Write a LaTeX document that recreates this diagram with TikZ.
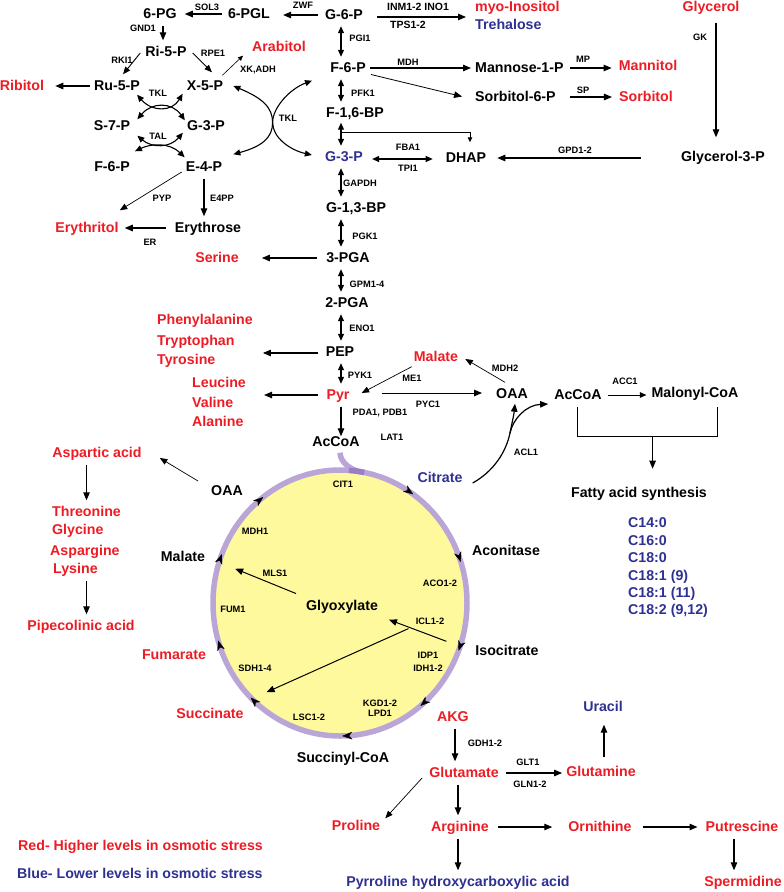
\documentclass[tikz,border=0pt]{standalone}
\usepackage{fontspec}
\setmainfont{Liberation Sans}
\usetikzlibrary{arrows.meta,calc}
\definecolor{myred}{HTML}{ED1C24}
\definecolor{myblue}{HTML}{2E3192}
\definecolor{ringpurple}{HTML}{B9A6D6}
\definecolor{ringyellow}{HTML}{FFF99E}
\definecolor{junction}{HTML}{9B7DC6}
\begin{document}
\begin{tikzpicture}[x=1pt,y=-1pt,
 lab/.style={font=\fontsize{14.2}{16}\selectfont\bfseries, text height=10.5pt, text depth=2.5pt, inner xsep=2pt, inner ysep=3pt},
 redl/.style={lab, text=myred},
 bluel/.style={lab, text=myblue},
 enz/.style={font=\fontsize{9.3}{11}\selectfont\bfseries, inner sep=1pt},
 enzL/.style={font=\fontsize{10.5}{12}\selectfont\bfseries, inner sep=1pt},
 ar/.style={line width=1.1pt, -{Triangle[length=8pt,width=6.5pt]}, shorten >=2pt, shorten <=2pt},
 tar/.style={line width=0.7pt, -{Triangle[length=7.5pt,width=6pt]}},
 dar/.style={line width=1.1pt, {Triangle[length=7pt,width=6pt]}-{Triangle[length=7pt,width=6pt]}, shorten >=1.5pt, shorten <=1.5pt},
 dcurve/.style={line width=1.1pt, {Triangle[length=7pt,width=6pt]}-{Triangle[length=7pt,width=6pt]}},
 ringtip/.style={line width=0.3pt, -{Stealth[length=10pt,width=7.5pt,inset=3pt]}},
]
\useasboundingbox (0,0) rectangle (784,892);

% ---------- TCA ring ----------
\draw[ringpurple, line width=5.5pt, fill=ringyellow] (340,603) ellipse [x radius=127pt, y radius=133pt];

% ---------- main metabolite nodes ----------
\coordinate (cx) at (341,0);
\node[lab] (pg6) at (160,14) {6-PG};
\node[lab] (pgl) at (249,14) {6-PGL};
\node[lab] (g6p) at (344,15) {G-6-P};
\node[redl,anchor=west] (myo) at (473,7) {myo-Inositol};
\node[bluel,anchor=west] (tre) at (473,25) {Trehalose};
\node[redl] (glyc) at (711,7) {Glycerol};
\node[lab] (glyc3p) at (723,157) {Glycerol-3-P};
\node[lab] (f6p) at (348,68) {F-6-P};
\node[lab,anchor=west] (man1p) at (473,68) {Mannose-1-P};
\node[lab,anchor=west] (sor6p) at (473,97) {Sorbitol-6-P};
\node[redl] (mannitol) at (648,66) {Mannitol};
\node[redl] (sorbitol) at (646,97) {Sorbitol};
\node[lab] (f16bp) at (355,113) {F-1,6-BP};
\node[bluel] (g3p) at (344,157) {G-3-P};
\node[lab] (dhap) at (466,158) {DHAP};
\node[lab] (g13bp) at (356,208) {G-1,3-BP};
\node[lab] (pga3) at (348,258) {3-PGA};
\node[redl] (serine) at (217,258) {Serine};
\node[lab] (pga2) at (347,303) {2-PGA};
\node[lab] (pep) at (340,352) {PEP};
\node[redl,anchor=west] (phe) at (155,320) {Phenylalanine};
\node[redl,anchor=west] (trp) at (155,341) {Tryptophan};
\node[redl,anchor=west] (tyr) at (155,360) {Tyrosine};
\node[redl] (pyr) at (338,395) {Pyr};
\node[redl,anchor=west] (leu) at (190,383) {Leucine};
\node[redl,anchor=west] (val) at (190,403) {Valine};
\node[redl,anchor=west] (ala) at (190,422) {Alanine};
\node[lab] (accoa) at (336,442) {AcCoA};
\node[redl] (malr) at (436,357) {Malate};
\node[lab] (oaar) at (512,394) {OAA};
\node[lab] (accoa2) at (578,395) {AcCoA};
\node[lab] (malcoa) at (695,393) {Malonyl-CoA};
\node[lab] (fas) at (639,493) {Fatty acid synthesis};
\node[bluel,anchor=west] (c140) at (626,523) {C14:0};
\node[bluel,anchor=west] (c160) at (626,541) {C16:0};
\node[bluel,anchor=west] (c180) at (626,558) {C18:0};
\node[bluel,anchor=west] (c181a) at (626,576) {C18:1 (9)};
\node[bluel,anchor=west] (c181b) at (626,593) {C18:1 (11)};
\node[bluel,anchor=west] (c182) at (626,610) {C18:2 (9,12)};
\node[bluel] (cit) at (440,478) {Citrate};

% pentose phosphate
\node[lab] (ri5p) at (166,52) {Ri-5-P};
\node[lab] (ru5p) at (117,86) {Ru-5-P};
\node[redl] (ribitol) at (22,86) {Ribitol};
\node[lab] (x5p) at (205,86) {X-5-P};
\node[redl] (arabitol) at (279,47) {Arabitol};
\node[lab] (s7p) at (112,126) {S-7-P};
\node[lab] (g3pl) at (206,126) {G-3-P};
\node[lab] (f6pl) at (112,167) {F-6-P};
\node[lab] (e4p) at (204,167) {E-4-P};
\node[lab] (erythrose) at (208,228) {Erythrose};
\node[redl] (erythritol) at (87,228) {Erythritol};

% cycle
\node[lab] (oaal) at (227,491) {OAA};
\node[lab] (mall) at (183,557) {Malate};
\node[redl] (fum) at (174,655) {Fumarate};
\node[redl] (suc) at (210,714) {Succinate};
\node[lab] (succoa) at (343,758) {Succinyl-CoA};
\node[redl] (akg) at (453,717) {AKG};
\node[lab] (iso) at (507,651) {Isocitrate};
\node[lab] (aco) at (506,551) {Aconitase};
\node[lab] (glyox) at (342,606) {Glyoxylate};

% left amino acids
\node[redl] (asp) at (97,453) {Aspartic acid};
\node[redl,anchor=west] (thr) at (50,512) {Threonine};
\node[redl,anchor=west] (gly) at (50,530) {Glycine};
\node[redl,anchor=west] (asn) at (48,551) {Aspargine};
\node[redl,anchor=west] (lys) at (51,569) {Lysine};
\node[redl] (pip) at (81,626) {Pipecolinic acid};

% bottom
\node[redl] (glu) at (464,773) {Glutamate};
\node[redl] (gln) at (601,772) {Glutamine};
\node[bluel] (ura) at (603,707) {Uracil};
\node[redl] (pro) at (356,826) {Proline};
\node[redl] (arg) at (460,827) {Arginine};
\node[redl] (orn) at (600,827) {Ornithine};
\node[redl] (put) at (742,827) {Putrescine};
\node[redl] (spd) at (743,882) {Spermidine};
\node[bluel] (pyrro) at (458,882) {Pyrroline hydroxycarboxylic acid};
\node[redl,anchor=west] (leg1) at (16,846) {Red- Higher levels in osmotic stress};
\node[bluel,anchor=west] (leg2) at (15,874) {Blue- Lower levels in osmotic stress};

% ---------- enzyme labels ----------
\node[enz] (eSOL) at (207,7) {SOL3};
\node[enz] (eZWF) at (303,5) {ZWF};
\node[enz] (eGND) at (143,28) {GND1};
\node[enz] (eRKI) at (122,60) {RKI1};
\node[enz] (eRPE) at (213,53) {RPE1};
\node[enz] (eXK) at (258,70) {XK,ADH};
\node[enz] (eTKL1) at (158,93) {TKL};
\node[enz] (eTAL) at (158,136) {TAL};
\node[enz] (eTKL2) at (288,118) {TKL};
\node[enz] (ePYP) at (162,198) {PYP};
\node[enz] (eE4PP) at (222,198) {E4PP};
\node[enz] (eER) at (150,242) {ER};
\node[enzL] (eINM) at (418,7) {INM1-2 INO1};
\node[enzL] (eTPS) at (408,25) {TPS1-2};
\node[enz] (ePGI) at (360,38) {PGI1};
\node[enz] (eMDH) at (408,62) {MDH};
\node[enz] (eMP) at (583,59) {MP};
\node[enz] (eSP) at (583,90) {SP};
\node[enz] (eGK) at (700,37) {GK};
\node[enz] (ePFK) at (363,93) {PFK1};
\node[enz] (eFBA) at (408,147) {FBA1};
\node[enz] (eTPI) at (408,168) {TPI1};
\node[enz] (eGPD) at (575,150) {GPD1-2};
\node[enz] (eGAPDH) at (360,183) {GAPDH};
\node[enz] (ePGK) at (365,236) {PGK1};
\node[enz] (eGPM) at (367,284) {GPM1-4};
\node[enz] (eENO) at (362,328) {ENO1};
\node[enz] (ePYK) at (360,375) {PYK1};
\node[enz] (ePDA) at (380,413) {PDA1, PDB1};
\node[enz] (eLAT) at (392,437) {LAT1};
\node[enz] (eME) at (412,378) {ME1};
\node[enz] (eMDH2) at (505,368) {MDH2};
\node[enz] (ePYC) at (428,404) {PYC1};
\node[enz] (eACC) at (625,381) {ACC1};
\node[enz] (eACL) at (526,452) {ACL1};
\node[enz] (eCIT) at (343,484) {CIT1};
\node[enz] (eMDH1) at (255,531) {MDH1};
\node[enz] (eACO) at (440,583) {ACO1-2};
\node[enz] (eMLS) at (275,573) {MLS1};
\node[enz] (eFUM) at (233,609) {FUM1};
\node[enz] (eICL) at (430,621) {ICL1-2};
\node[enz] (eIDP) at (428,655) {IDP1};
\node[enz] (eIDH) at (428,668) {IDH1-2};
\node[enz] (eSDH) at (255,668) {SDH1-4};
\node[enz] (eKGD) at (380,703) {KGD1-2};
\node[enz] (eLPD) at (380,713) {LPD1};
\node[enz] (eLSC) at (309,717) {LSC1-2};
\node[enz] (eGDH) at (485,743) {GDH1-2};
\node[enz] (eGLT) at (528,762) {GLT1};
\node[enz] (eGLN) at (530,784) {GLN1-2};

% ---------- ring connector and tips ----------
\draw[ringpurple, line width=5.5pt] ($(accoa.south)+(4,1)$) .. controls +(0,10) and +(-12,-1) .. ({340+127*cos(-79)},{603+133*sin(-79)});
\draw[junction, line width=5.5pt] plot[domain=-86:-79,samples=10] ({340+127*cos(\x)},{603+133*sin(\x)});
\foreach \a in {-57.8,-21,18,47.7,86,131.7,160.6,198.6,229.8} {
  \draw[ringtip] ({340+127*cos(\a+1)},{603+133*sin(\a+1)}) -- ({340+127*cos(\a+3)},{603+133*sin(\a+3)});
}

% ---------- connectors: top ----------
\draw[ar, shorten >=6pt, shorten <=4pt] (pgl.west) -- (pgl.west -| pg6.east);
\draw[ar, shorten >=11pt, shorten <=5pt] (g6p.west) -- (g6p.west -| pgl.east);
\draw[ar] ($(g6p.east)+(10,2)$) -- ($(myo.west |- g6p.east)+(-5,2)$);
\coordinate (gk1) at ($(glyc.south)+(5,4)$);
\draw[ar, shorten >=10pt] (gk1) -- (gk1 |- glyc3p.north);
\draw[ar, shorten <=38pt, shorten >=9pt] (glyc3p.west |- dhap.east) -- (dhap.east);

% glycolysis column
\draw[dar] (g6p.south -| cx) -- (f6p.north -| cx);
\draw[dar] (f6p.south -| cx) -- (f16bp.north -| cx);
\draw[dar, shorten <=0pt] (f16bp.south -| cx) -- (g3p.north -| cx);
\draw[dar] (g3p.south -| cx) -- (g13bp.north -| cx);
\draw[dar] (g13bp.south -| cx) -- (pga3.north -| cx);
\draw[dar] (pga3.south -| cx) -- (pga2.north -| cx);
\draw[dar] (pga2.south -| cx) -- (pep.north -| cx);
\draw[dar] (pep.south -| cx) -- (pyr.north -| cx);
\draw[ar, shorten >=-4pt] (pyr.south -| cx) -- (accoa.north -| cx);
\coordinate (br1) at ($(f16bp.south -| cx)+(0,10)$);
\draw[line width=0.9pt, -{Triangle[length=5pt,width=4.5pt]}, shorten >=6pt] (br1) -| ($(dhap.north)+(4,0)$);

\draw[ar] (f6p.east) -- (f6p.east -| man1p.west);
\draw[ar, line width=0.8pt] ($(f6p.east)+(1,6)$) -- ($(sor6p.west)+(-9,0)$);
\draw[ar, shorten <=4pt, shorten >=5pt] (man1p.east) -- (man1p.east -| mannitol.west);
\draw[ar, shorten <=12pt, shorten >=5pt] (sor6p.east) -- (sor6p.east -| sorbitol.west);
\draw[dar, shorten <=7pt, shorten >=11pt] ($(g3p.east)+(0,2)$) -- ($(g3p.east -| dhap.west)+(0,2)$);
\draw[ar, shorten <=7pt, shorten >=21pt] (pga3.west) -- (pga3.west -| serine.east);
\draw[ar, shorten <=6pt, shorten >=8pt] ($(pep.west)+(0,1)$) -- ($(pep.west -| phe.east)+(0,1)$);
\draw[ar, shorten <=6pt, shorten >=16pt] (pyr.west) -- (pyr.west -| leu.east);

% pyruvate / OAA / fatty acids
\draw[tar] (malr.south west) -- ($(pyr.east)+(10,-2)$);
\draw[ar, line width=0.9pt, shorten >=12pt] ($(pyr.east)+(28,-2)$) -- ($(pyr.east -| oaar.west)+(0,-2)$);
\draw[tar] ($(oaar.north)+(-7,-2)$) -- ($(malr.east)+(5,2)$);
\draw[line width=0.9pt, -{Triangle[length=6.5pt,width=5.5pt]}, shorten <=4pt, shorten >=3pt] (accoa2.east) -- (accoa2.east -| malcoa.west);
\coordinate (bl) at ($(accoa2.south)+(-1,2)$);
\coordinate (br) at ($(bl -| malcoa.south)+(22,0)$);
\draw[line width=1pt] (bl) -- ($(bl)+(0,30)$) -- ($(br)+(0,30)$) -- (br);
\draw[ar, shorten <=0pt] ($(bl)!0.54!(br)+(0,30)$) -- ++(0,34);
\coordinate (acl0) at ($(cit.east)+(8,5)$);
\coordinate (aclsp) at (510,433);
\draw[line width=1.2pt] (acl0) .. controls (494,471) and (506,452) .. (aclsp);
\draw[line width=1.2pt, -{Triangle[length=8pt,width=6.5pt]}] (aclsp) .. controls (512,423) and (514,414) .. ($(oaar.south)+(3,0)$);
\draw[line width=1.2pt, -{Triangle[length=8pt,width=6.5pt]}] (aclsp) .. controls (513,419) and (526,405) .. ($(accoa2.west)+(-4,9)$);

% cycle internal
\draw[ar, line width=1pt] ($(glyox.north west)+(-6,-2)$) -- ($(mall.east)+(26,11)$);
\coordinate (icls) at ($(iso.west)+(-25,-9)$);
\coordinate (iclt) at ($(glyox.east)+(7,13)$);
\draw[ar, line width=1pt] (icls) -- (iclt);
\draw[ar, line width=1pt] ($(icls)!0.62!(iclt)$) -- ($(suc.east)+(19,-21)$);

% left amino acids
\draw[tar] ($(oaal.west)+(-11,-10)$) -- ($(asp.east)+(16,5)$);
\draw[ar, line width=0.9pt] (asp.south -| thr.north) -- (thr.north);
\draw[ar, line width=0.9pt] (lys.south -| thr.north) -- (pip.north -| thr.north);

% bottom
\coordinate (ak) at ($(akg.south)+(2,0)$);
\draw[ar] (ak) -- (ak |- glu.north);
\draw[ar, shorten <=5pt] (glu.east) -- (glu.east -| gln.west);
\draw[ar, shorten >=8pt, shorten <=5pt] ($(gln.north)+(3,0)$) -- ($(gln.north |- ura.south)+(3,0)$);
\draw[tar] ($(glu.west)+(-5,5)$) -- ($(pro.north east)+(3,2)$);
\coordinate (ag) at ($(arg.north)+(-2,0)$);
\draw[ar] (ag |- glu.south) -- (ag);
\draw[ar, shorten <=7pt, shorten >=14pt] (arg.east) -- (arg.east -| orn.west);
\draw[ar, shorten <=9pt, shorten >=6pt] (orn.east) -- (orn.east -| put.west);
\coordinate (pt) at ($(put.south)+(-8,0)$);
\draw[ar] (pt) -- (pt |- spd.north);
\draw[ar] (arg.south -| ag) -- (pyrro.north -| ag);

% pentose phosphate connectors
\draw[ar] ($(pg6.south)+(3,0)$) -- ($(ri5p.north)+(-3,0)$);
\draw[tar, line width=0.9pt] ($(ri5p.west)+(-3,1)$) -- ($(ru5p.north)+(6,-2)$);
\draw[tar, line width=0.9pt] ($(ri5p.east)+(4,1)$) -- ($(x5p.north)+(7,-4)$);
\draw[ar, shorten >=9pt] (ru5p.west) -- (ru5p.west -| ribitol.east);
\draw[line width=0.6pt, -{Triangle[length=5pt,width=4.5pt]}] ($(x5p.north east)+(-3,-1)$) -- ($(arabitol.south west)+(-7,-1)$);

\coordinate (t1) at ($(ru5p.south east)+(-5,-1)$);
\coordinate (t2) at ($(x5p.south west)+(-2,-2)$);
\coordinate (t3) at ($(s7p.north east)+(5,3)$);
\coordinate (t4) at ($(g3pl.north west)+(0,4)$);
\draw[dcurve] (t1) .. controls (152,112) and (172,112) .. (t2);
\draw[dcurve] (t3) .. controls (152,102) and (172,102) .. (t4);
\coordinate (t5) at ($(s7p.south east)+(5,0)$);
\coordinate (t6) at ($(g3pl.south west)+(-2,-3)$);
\coordinate (t7) at ($(f6pl.north east)+(3,-6)$);
\coordinate (t8) at ($(e4p.north west)+(1,0)$);
\draw[dcurve] (t5) .. controls (152,148) and (170,148) .. (t6);
\draw[dcurve] (t7) .. controls (152,143) and (170,143) .. (t8);

\coordinate (T1) at ($(x5p.east)+(8,0)$);
\coordinate (T2) at ($(g3p.west)+(-11,-2)$);
\coordinate (T3) at ($(e4p.north east)+(9,-3)$);
\coordinate (T4) at ($(f6p.south west)+(-16,3)$);
\coordinate (Tc) at ($(T1)!0.5!(T2)+(0,2)$);
\draw[dcurve] (T1) .. controls +(29,12) and +(0,-15) .. (Tc) .. controls +(0,15) and +(-22,-5) .. (T2);
\draw[dcurve] (T3) .. controls +(29,-8) and +(0,15) .. (Tc) .. controls +(0,-15) and +(-22,8) .. (T4);

\draw[tar] ($(e4p.west)+(-2,5)$) -- ($(erythritol.north east)+(-1,-8)$);
\draw[ar] (e4p.south) -- (e4p.south |- erythrose.north);
\draw[ar, shorten <=7pt, shorten >=4pt] (erythrose.west) -- (erythrose.west -| erythritol.east);
\end{tikzpicture}
\end{document}
